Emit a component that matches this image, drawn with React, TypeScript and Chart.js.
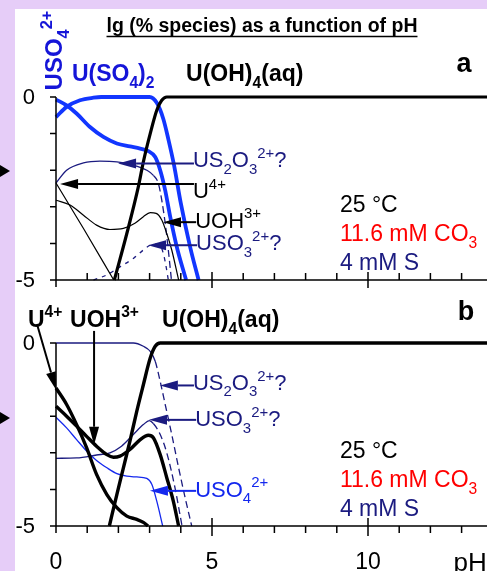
import React, { useEffect, useRef } from 'react';
import { Chart, registerables } from 'chart.js';

Chart.register(...registerables);

// ---------------- data (pH, lg % species) ----------------
// Panel a
const A_PH_UOH4 = [1.87, 2.27, 2.64, 2.8, 3.02, 3.23, 3.39, 3.55, 14];
const A_LG_UOH4 = [-5, -3.73, -2.45, -1.77, -1.0, -0.36, -0.09, 0, 0];
const A_PH_USO4 = [0, 0.34, 0.66, 1.09, 1.52, 1.95, 2.37, 2.7, 2.96, 3.18, 3.34, 3.5, 3.66, 3.87, 4.17];
const A_LG_USO4 = [-0.07, -0.23, -0.45, -0.82, -1.09, -1.27, -1.35, -1.41, -1.48, -1.64, -2.0, -2.55, -3.27, -4.09, -5];
const A_PH_USO42 = [0, 0.34, 0.77, 1.2, 1.45, 3.0, 3.23, 3.44, 3.6, 3.78, 4.0, 4.3, 4.57];
const A_LG_USO42 = [-0.55, -0.27, -0.09, -0.02, 0, 0, -0.16, -0.6, -1.15, -1.85, -2.9, -4.1, -5];
const A_PH_US2O3 = [0, 0.34, 0.88, 1.41, 1.95, 2.48, 2.91, 3.12, 3.28, 3.39, 3.5, 3.6, 3.7];
const A_LG_US2O3 = [-2.35, -2.0, -1.8, -1.75, -1.77, -1.86, -2.0, -2.14, -2.36, -2.82, -3.45, -4.18, -5];
const A_PH_U4 = [0, 0.9, 1.85];
const A_LG_U4 = [-2.35, -3.62, -5];
const A_PH_UOH3 = [0, 0.45, 0.88, 1.3, 1.73, 2.16, 2.53, 2.8, 3.02, 3.21, 3.39, 3.55, 3.71, 3.93];
const A_LG_UOH3 = [-2.82, -2.95, -3.23, -3.5, -3.62, -3.59, -3.45, -3.27, -3.16, -3.18, -3.36, -3.73, -4.18, -5];
const A_PH_USO3 = [1.2, 1.63, 2.05, 2.48, 2.8, 3.02, 3.23, 3.39, 3.5, 3.6];
const A_LG_USO3 = [-5, -4.86, -4.64, -4.41, -4.18, -4.05, -4.02, -4.14, -4.5, -5];

// Panel b
const B_PH_UOH4 = [1.71, 1.95, 2.16, 2.37, 2.59, 2.8, 3.02, 3.18, 3.34, 14];
const B_LG_UOH4 = [-5, -4.14, -3.41, -2.68, -1.86, -1.14, -0.41, -0.09, 0, 0];
const B_PH_U4 = [0, 0.34, 0.66, 0.98, 1.3, 1.63, 1.95, 2.27, 2.59, 2.8, 2.95];
const B_LG_U4 = [-1.23, -1.68, -2.23, -2.86, -3.59, -4.14, -4.5, -4.73, -4.82, -4.9, -5];
const B_PH_UOH3 = [0, 0.34, 0.66, 0.98, 1.3, 1.63, 1.84, 2.05, 2.37, 2.7, 2.96, 3.12, 3.34, 3.55, 3.76, 3.93];
const B_LG_UOH3 = [-1.73, -2.0, -2.27, -2.55, -2.82, -3.05, -3.12, -3.09, -2.91, -2.64, -2.52, -2.59, -3.05, -3.68, -4.32, -5];
const B_PH_US2O3 = [0, 2.48, 2.8, 3.02, 3.18, 3.34, 3.5, 3.71, 3.93, 4.14, 4.35];
const B_LG_US2O3 = [0, 0, -0.09, -0.23, -0.5, -1.05, -1.68, -2.5, -3.41, -4.23, -5];
const B_PH_USO3 = [0, 0.66, 1.3, 1.73, 2.1, 2.48, 2.8, 2.99, 3.12, 3.34, 3.55, 3.8, 4.04];
const B_LG_USO3 = [-3.15, -3.14, -3.06, -3.0, -2.82, -2.5, -2.23, -2.12, -2.2, -2.5, -3.0, -3.9, -5];
const B_PH_USO4 = [0, 0.34, 0.66, 0.98, 1.3, 1.63, 1.95, 2.27, 2.59, 2.91, 3.07, 3.23, 3.42];
const B_LG_USO4 = [-2.03, -2.32, -2.64, -2.95, -3.21, -3.41, -3.57, -3.64, -3.66, -3.7, -3.86, -4.32, -5];

// ticks
const X_TICKS = [0, 1, 2, 3, 4, 5, 6, 7, 8, 9, 10, 11, 12, 13, 14];
const X_MAJOR = [0, 5, 10];
const X_LABELS = ['0', '5', '10'];
const Y_TICKS = [0, -1, -2, -3, -4, -5];
const Y_LABEL_VALUES = [0, -5];
const Y_LABELS = ['0', '-5'];

const TITLE = 'lg (% species) as a function of pH';
const CONDITIONS = ['25 °C', '11.6 mM CO', '4 mM S'];

// ---------------- style ----------------
const W = 487;
const H = 571;
const FONT = 'Arial, "Liberation Sans", Helvetica, sans-serif';
const LAV = '#e6cdf8';
const NAVY = '#1b1b80';
const BLUE = '#1236ff';
const TXTBLUE = '#1515d8';
const THINBLUE = '#1428ee';
const RED = '#ff0000';

type Part = [string, number]; // 0 normal, 1 subscript, 2 superscript
const P = (s: string): Part => [s, 0];
const SUB = (s: string): Part => [s, 1];
const SUP = (s: string): Part => [s, 2];

const fontStr = (size: number, bold: boolean) => `${bold ? 'bold ' : ''}${size}px ${FONT}`;
const partSize = (size: number, m: number) => (m ? size * 0.68 : size);

function measureRich(ctx: CanvasRenderingContext2D, parts: Part[], size: number, bold: boolean) {
  let w = 0;
  for (const [t, m] of parts) {
    ctx.font = fontStr(partSize(size, m), bold);
    w += ctx.measureText(t).width;
  }
  return w;
}

function drawRich(
  ctx: CanvasRenderingContext2D,
  x: number,
  y: number,
  parts: Part[],
  size: number,
  bold: boolean,
  color: string,
  align: 'left' | 'center' | 'right' = 'left'
) {
  const w = measureRich(ctx, parts, size, bold);
  let cx = align === 'left' ? x : align === 'center' ? x - w / 2 : x - w;
  ctx.fillStyle = color;
  ctx.textBaseline = 'alphabetic';
  ctx.textAlign = 'left';
  for (const [t, m] of parts) {
    ctx.font = fontStr(partSize(size, m), bold);
    const dy = m === 1 ? size * 0.3 : m === 2 ? -size * 0.42 : 0;
    ctx.fillText(t, cx, y + dy);
    cx += ctx.measureText(t).width;
  }
  return w;
}

function drawArrow(
  ctx: CanvasRenderingContext2D,
  x1: number, y1: number, x2: number, y2: number,
  color: string, lw = 2, head = 18, half = 5
) {
  const ang = Math.atan2(y2 - y1, x2 - x1);
  const bx = x2 - head * Math.cos(ang);
  const by = y2 - head * Math.sin(ang);
  ctx.strokeStyle = color;
  ctx.lineWidth = lw;
  ctx.setLineDash([]);
  ctx.beginPath();
  ctx.moveTo(x1, y1);
  ctx.lineTo(bx, by);
  ctx.stroke();
  ctx.fillStyle = color;
  ctx.beginPath();
  ctx.moveTo(x2, y2);
  ctx.lineTo(bx + half * Math.sin(ang), by - half * Math.cos(ang));
  ctx.lineTo(bx - half * Math.sin(ang), by + half * Math.cos(ang));
  ctx.closePath();
  ctx.fill();
}

function series(
  ph: number[], lg: number[], color: string, width: number,
  opts: { dashFrom?: number; dash?: number[]; allDash?: number[] } = {}
) {
  const ds: any = {
    data: ph.map((x, i) => ({ x, y: lg[i] })),
    borderColor: color,
    borderWidth: width,
    pointRadius: 0,
    pointHoverRadius: 0,
    fill: false,
    cubicInterpolationMode: 'monotone',
    clip: false,
    borderDash: opts.allDash ?? [],
  };
  if (opts.dashFrom !== undefined) {
    const from = opts.dashFrom;
    const dash = opts.dash ?? [7, 4];
    ds.segment = { borderDash: (c: any) => (c.p0.parsed.x >= from ? dash : undefined) };
  }
  return ds;
}

// annotation tables (data coordinates: pH, lg)
const A_NOTES = [
  { parts: [P('US'), SUB('2'), P('O'), SUB('3'), SUP('2+'), P('?')], color: NAVY, lx: 4.39, ly: -1.92, ay: -1.82, tip: 1.99 },
  { parts: [P('U'), SUP('4+')], color: '#000', lx: 4.39, ly: -2.77, ay: -2.38, tip: 0.13 },
  { parts: [P('UOH'), SUP('3+')], color: '#000', lx: 4.46, ly: -3.57, ay: -3.42, tip: 3.43 },
  { parts: [P('USO'), SUB('3'), SUP('2+'), P('?')], color: NAVY, lx: 4.49, ly: -4.19, ay: -4.05, tip: 2.95 },
];
const B_NOTES = [
  { parts: [P('US'), SUB('2'), P('O'), SUB('3'), SUP('2+'), P('?')], color: NAVY, lx: 4.39, ly: -1.28, ay: -1.16, tip: 3.33 },
  { parts: [P('USO'), SUB('3'), SUP('2+'), P('?')], color: NAVY, lx: 4.46, ly: -2.28, ay: -2.1, tip: 2.98 },
  { parts: [P('USO'), SUB('4'), SUP('2+')], color: THINBLUE, lx: 4.46, ly: -4.2, ay: -4.04, tip: 3.01 },
];
const HEADER_Y = 0.44;
const COND_X = 9.1;
const COND_Y = [-3.14, -3.93, -4.73];

function drawAxes(ctx: CanvasRenderingContext2D, chart: any, inward: boolean, xLabels: boolean) {
  const { left, right, top, bottom } = chart.chartArea;
  const sx = chart.scales.x;
  const sy = chart.scales.y;
  ctx.strokeStyle = '#000';
  ctx.lineWidth = 1.5;
  ctx.setLineDash([]);
  ctx.beginPath();
  ctx.moveTo(left, top);
  ctx.lineTo(left, bottom);
  ctx.moveTo(left, bottom);
  ctx.lineTo(right + 10, bottom);
  for (const v of Y_TICKS) {
    const y = sy.getPixelForValue(v);
    ctx.moveTo(left - 6, y);
    ctx.lineTo(left, y);
  }
  for (const t of X_TICKS) {
    const x = sx.getPixelForValue(t);
    const major = X_MAJOR.includes(t);
    if (t === 0) {
      ctx.moveTo(x, bottom);
      ctx.lineTo(x, bottom + 7);
    } else if (major) {
      ctx.moveTo(x, bottom - 8);
      ctx.lineTo(x, bottom + (inward ? 8 : 10));
    } else if (inward) {
      ctx.moveTo(x, bottom - 7);
      ctx.lineTo(x, bottom);
    } else {
      ctx.moveTo(x, bottom);
      ctx.lineTo(x, bottom + 7);
    }
  }
  ctx.stroke();

  ctx.fillStyle = '#000';
  ctx.font = fontStr(22, false);
  ctx.textAlign = 'right';
  ctx.textBaseline = 'middle';
  Y_LABEL_VALUES.forEach((v, i) => {
    ctx.fillText(Y_LABELS[i], left - 21, sy.getPixelForValue(v) + 1);
  });
  if (xLabels) {
    ctx.font = fontStr(23, false);
    ctx.textAlign = 'center';
    ctx.textBaseline = 'alphabetic';
    X_MAJOR.forEach((v, i) => {
      ctx.fillText(X_LABELS[i], sx.getPixelForValue(v), bottom + 43);
    });
    ctx.textAlign = 'left';
    ctx.font = fontStr(26, false);
    ctx.fillText('pH', sx.getPixelForValue(12.74), bottom + 45);
  }
}

function drawNotes(ctx: CanvasRenderingContext2D, chart: any, notes: any[]) {
  const sx = chart.scales.x;
  const sy = chart.scales.y;
  for (const n of notes) {
    const lx = sx.getPixelForValue(n.lx);
    drawRich(ctx, lx, sy.getPixelForValue(n.ly), n.parts, 22, false, n.color);
    const ay = sy.getPixelForValue(n.ay);
    drawArrow(ctx, lx + 1, ay, sx.getPixelForValue(n.tip), ay, n.color);
  }
}

function drawConditions(ctx: CanvasRenderingContext2D, chart: any) {
  const sx = chart.scales.x;
  const sy = chart.scales.y;
  const x = sx.getPixelForValue(COND_X);
  drawRich(ctx, x, sy.getPixelForValue(COND_Y[0]), [P(CONDITIONS[0])], 23, false, '#000');
  drawRich(ctx, x, sy.getPixelForValue(COND_Y[1]), [P(CONDITIONS[1]), SUB('3')], 23, false, RED);
  drawRich(ctx, x, sy.getPixelForValue(COND_Y[2]), [P(CONDITIONS[2])], 23, false, NAVY);
}

function triangle(ctx: CanvasRenderingContext2D, y: number) {
  ctx.fillStyle = '#000';
  ctx.beginPath();
  ctx.moveTo(0, y - 6);
  ctx.lineTo(10, y);
  ctx.lineTo(0, y + 6);
  ctx.closePath();
  ctx.fill();
}

const panelAPlugin = {
  id: 'panelA',
  afterDatasetsDraw(chart: any) {
    const ctx: CanvasRenderingContext2D = chart.ctx;
    const sx = chart.scales.x;
    const sy = chart.scales.y;
    ctx.save();
    drawAxes(ctx, chart, true, false);

    // title
    ctx.font = fontStr(19.5, true);
    const tw = ctx.measureText(TITLE).width;
    const tx = 262;
    ctx.fillStyle = '#000';
    ctx.textAlign = 'center';
    ctx.textBaseline = 'alphabetic';
    ctx.fillText(TITLE, tx, 32);
    ctx.strokeStyle = '#000';
    ctx.lineWidth = 1.5;
    ctx.beginPath();
    ctx.moveTo(tx - tw / 2, 36.5);
    ctx.lineTo(tx + tw / 2, 36.5);
    ctx.stroke();

    triangle(ctx, 171);

    // rotated USO4 2+
    ctx.save();
    ctx.translate(sx.getPixelForValue(0.2), sy.getPixelForValue(0.18));
    ctx.rotate(-Math.PI / 2);
    drawRich(ctx, 0, 0, [P('USO'), SUB('4'), SUP('2+')], 24, true, TXTBLUE);
    ctx.restore();

    const hy = sy.getPixelForValue(HEADER_Y);
    drawRich(ctx, sx.getPixelForValue(0.51), hy, [P('U(SO'), SUB('4'), P(')'), SUB('2')], 23, true, TXTBLUE);
    drawRich(ctx, sx.getPixelForValue(4.17), hy, [P('U(OH)'), SUB('4'), P('(aq)')], 23, true, '#000');

    drawRich(ctx, sx.getPixelForValue(12.84), sy.getPixelForValue(0.68), [P('a')], 27, true, '#000');

    drawNotes(ctx, chart, A_NOTES);
    drawConditions(ctx, chart);
    ctx.restore();
  },
};

const panelBPlugin = {
  id: 'panelB',
  afterDatasetsDraw(chart: any) {
    const ctx: CanvasRenderingContext2D = chart.ctx;
    const sx = chart.scales.x;
    const sy = chart.scales.y;
    ctx.save();
    drawAxes(ctx, chart, false, true);
    triangle(ctx, 418);

    const hy = sy.getPixelForValue(HEADER_Y);
    drawRich(ctx, sx.getPixelForValue(-0.9), hy, [P('U'), SUP('4+')], 23, true, '#000');
    drawRich(ctx, sx.getPixelForValue(0.45), hy, [P('UOH'), SUP('3+')], 23, true, '#000');
    drawRich(ctx, sx.getPixelForValue(3.4), hy, [P('U(OH)'), SUB('4'), P('(aq)')], 23, true, '#000');

    // header arrows
    drawArrow(ctx, sx.getPixelForValue(-0.61), sy.getPixelForValue(0.52), sx.getPixelForValue(0), sy.getPixelForValue(-1.28), '#000', 2, 18, 5);
    drawArrow(ctx, sx.getPixelForValue(1.22), sy.getPixelForValue(0.33), sx.getPixelForValue(1.22), sy.getPixelForValue(-2.78), '#000', 2, 18, 5);

    drawRich(ctx, sx.getPixelForValue(12.88), sy.getPixelForValue(0.63), [P('b')], 27, true, '#000');

    drawNotes(ctx, chart, B_NOTES);
    drawConditions(ctx, chart);
    ctx.restore();
  },
};

function baseOptions(top: number, bottom: number) {
  return {
    animation: false,
    responsive: false,
    maintainAspectRatio: false,
    devicePixelRatio: 1,
    events: [],
    layout: { padding: { left: 56, right: 0, top, bottom: H - bottom } },
    scales: {
      x: { type: 'linear', min: 0, max: (W - 56) / 31.2, display: false },
      y: { type: 'linear', min: -5, max: 0, display: false },
    },
    plugins: { legend: { display: false }, tooltip: { enabled: false }, title: { display: false } },
  };
}

export default function App() {
  const aRef = useRef<HTMLCanvasElement>(null);
  const bRef = useRef<HTMLCanvasElement>(null);

  useEffect(() => {
    document.body.style.margin = '0';
    const ca = new Chart(aRef.current as HTMLCanvasElement, {
      type: 'line',
      data: {
        datasets: [
          series(A_PH_UOH4, A_LG_UOH4, '#000', 3.2),
          series(A_PH_USO4, A_LG_USO4, BLUE, 3.8),
          series(A_PH_USO42, A_LG_USO42, BLUE, 3.8),
          series(A_PH_U4, A_LG_U4, '#000', 1.2),
          series(A_PH_UOH3, A_LG_UOH3, '#000', 1.2),
          series(A_PH_US2O3, A_LG_US2O3, NAVY, 1.3, { dashFrom: 3.1, dash: [7, 4] }),
          series(A_PH_USO3, A_LG_USO3, NAVY, 1.3, { allDash: [4, 5] }),
        ],
      },
      options: baseOptions(97, 280) as any,
      plugins: [panelAPlugin],
    });
    const cb = new Chart(bRef.current as HTMLCanvasElement, {
      type: 'line',
      data: {
        datasets: [
          series(B_PH_UOH4, B_LG_UOH4, '#000', 3.4),
          series(B_PH_U4, B_LG_U4, '#000', 3.4),
          series(B_PH_UOH3, B_LG_UOH3, '#000', 3.4),
          series(B_PH_US2O3, B_LG_US2O3, NAVY, 1.3, { dashFrom: 3.1, dash: [7, 4] }),
          series(B_PH_USO3, B_LG_USO3, NAVY, 1.3, { dashFrom: 3.0, dash: [7, 4] }),
          series(B_PH_USO4, B_LG_USO4, THINBLUE, 1.3),
        ],
      },
      options: baseOptions(343, 526) as any,
      plugins: [panelBPlugin],
    });
    return () => {
      ca.destroy();
      cb.destroy();
    };
  }, []);

  return (
    <div style={{ position: 'fixed', left: 0, top: 0, width: W, height: H, background: LAV, overflow: 'hidden' }}>
      <div style={{ position: 'absolute', left: 15, top: 9, right: 0, bottom: 0, background: '#fff' }} />
      <canvas ref={aRef} width={W} height={H} style={{ position: 'absolute', left: 0, top: 0 }} />
      <canvas ref={bRef} width={W} height={H} style={{ position: 'absolute', left: 0, top: 0 }} />
    </div>
  );
}
